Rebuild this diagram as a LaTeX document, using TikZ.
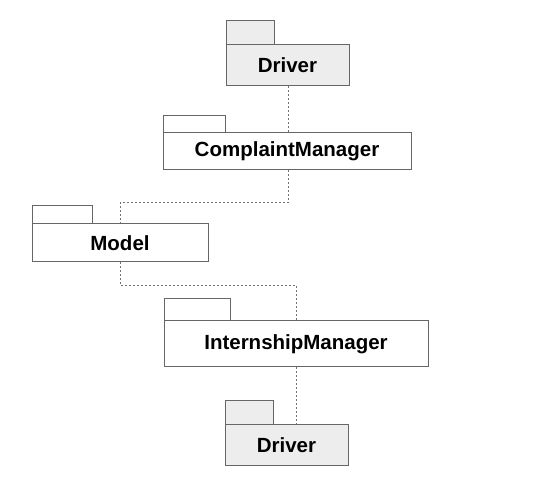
\documentclass[tikz,border=0pt]{standalone}
\usepackage{fontspec}
\setmainfont{Liberation Sans}
\begin{document}
\begin{tikzpicture}[x=1pt,y=-1pt,
  pkgbody/.style={draw=black!60, line width=1pt, fill=#1, inner sep=0pt, font=\fontsize{20.5}{23}\selectfont\bfseries},
  pkgbody/.default=white,
  pkgtab/.style={draw=black!60, line width=1pt, fill=#1},
  pkgtab/.default=white,
  dep/.style={draw=black!55, line width=1pt, dash pattern=on 2pt off 2pt}]
\useasboundingbox (0,0) rectangle (542,484);
% Driver top
\draw[pkgtab=black!7] (226,21) rectangle (274,45);
\node[pkgbody=black!7, minimum width=123pt, minimum height=41pt] (d1) at (287.5,65.5) {Driver};
% ComplaintManager
\draw[pkgtab] (163,116) rectangle (225,133);
\node[pkgbody, minimum width=248pt, minimum height=37pt] (cm) at (287,151.5) {ComplaintManager};
% Model
\draw[pkgtab] (32,206) rectangle (92,224);
\node[pkgbody, minimum width=176pt, minimum height=38pt] (mo) at (120,243) {Model};
% InternshipManager
\draw[pkgtab] (164,299) rectangle (230,321);
\node[pkgbody, minimum width=264pt, minimum height=46pt] (im) at (296,344) {InternshipManager};
% Driver bottom
\draw[pkgtab=black!7] (225,401) rectangle (273,425);
\node[pkgbody=black!7, minimum width=123pt, minimum height=41pt] (d2) at (286.5,445.5) {Driver};
% connectors
\coordinate (c1) at (288,203);
\coordinate (c2) at (120,203);
\coordinate (c3) at (120,286);
\coordinate (c4) at (296,286);
\draw[dep] (d1.south -| 288,0) -- (cm.north -| 288,0);
\draw[dep] (cm.south -| c1) -- (c1) -- (c2) -- (mo.north);
\draw[dep] (mo.south) -- (c3) -- (c4) -- (im.north);
\draw[dep] (im.south) -- (d2.north -| im.south);
\end{tikzpicture}
\end{document}
